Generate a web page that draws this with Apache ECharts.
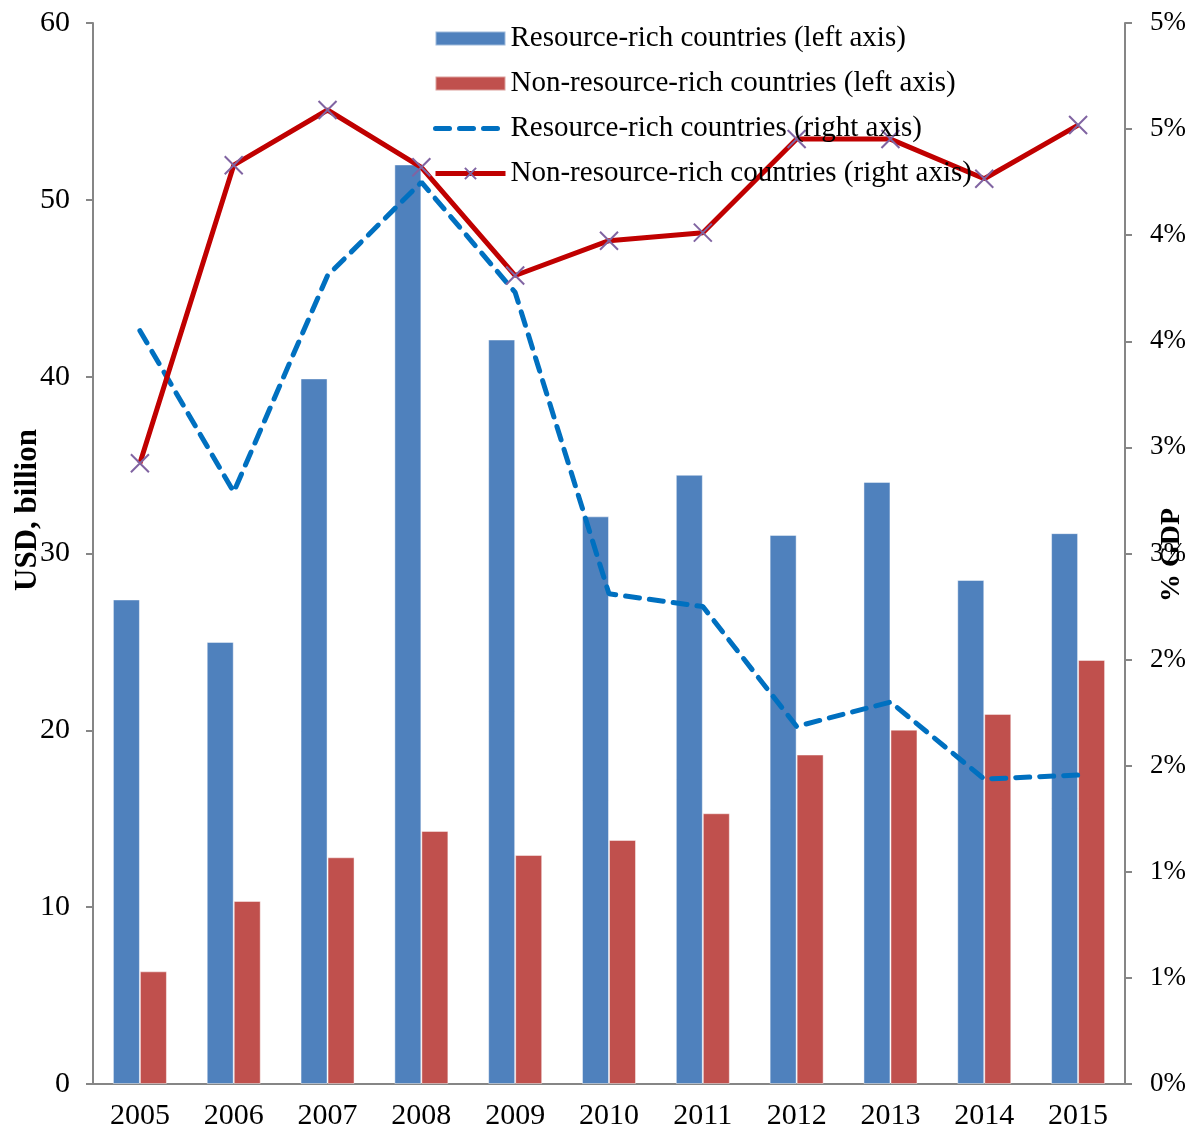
<!DOCTYPE html>
<html>
<head>
<meta charset="utf-8">
<script src="https://cdn.jsdelivr.net/npm/echarts@6/dist/echarts.min.js"></script>
<style>
  html, body { margin: 0; padding: 0; background: #fff; }
  #chart { width: 1188px; height: 1128px; }
</style>
</head>
<body>
<div id="chart"></div>
<script>
// years on the x axis
var years = ["2005", "2006", "2007", "2008", "2009", "2010", "2011", "2012", "2013", "2014", "2015"];

// USD billion (left axis)
var richUsd = [27.4, 25.0, 39.9, 52.0, 42.1, 32.1, 34.45, 31.05, 34.05, 28.5, 31.15];
var nonRichUsd = [6.37, 10.35, 12.82, 14.31, 12.95, 13.8, 15.31, 18.63, 20.04, 20.93, 23.98];

// % of GDP (right axis)
var richGdp = [3.55, 2.79, 3.81, 4.25, 3.73, 2.31, 2.25, 1.685, 1.8, 1.437, 1.456];
var nonRichGdp = [2.925, 4.33, 4.59, 4.32, 3.81, 3.974, 4.012, 4.453, 4.453, 4.266, 4.519];

var seriesNames = [
  "Resource-rich countries (left axis)",
  "Non-resource-rich countries (left axis)",
  "Resource-rich countries (right axis)",
  "Non-resource-rich countries (right axis)"
];

var font = "Liberation Serif";
var axisGray = "#868686";

var myChart = echarts.init(document.getElementById("chart"));

myChart.setOption({
  animation: false,
  textStyle: { fontFamily: font },
  grid: { left: 93, right: 63, top: 23, bottom: 44, outerBoundsMode: "none" },
  legend: {
    orient: "vertical",
    left: 428,
    top: 19,
    itemWidth: 70,
    itemHeight: 14,
    itemGap: 16,
    textStyle: { fontFamily: font, fontSize: 29, color: "#000" },
    data: [
      { name: seriesNames[0], icon: "rect" },
      { name: seriesNames[1], icon: "rect" },
      {
        name: seriesNames[2],
        lineStyle: { width: 5 },
        itemStyle: { color: "rgba(0,0,0,0)", borderWidth: 0 }
      },
      { name: seriesNames[3], lineStyle: { width: 5 } }
    ]
  },
  graphic: [
    {
      type: "text",
      x: 28,
      y: 510,
      rotation: Math.PI / 2,
      style: {
        text: "USD, billion",
        fontFamily: font,
        fontSize: 31,
        fontWeight: "bold",
        fill: "#000",
        align: "center",
        verticalAlign: "middle"
      }
    },
    {
      type: "text",
      x: 1172,
      y: 555,
      rotation: Math.PI / 2,
      style: {
        text: "% GDP",
        fontFamily: font,
        fontSize: 28,
        fontWeight: "bold",
        fill: "#000",
        align: "center",
        verticalAlign: "middle"
      }
    }
  ],
  xAxis: {
    type: "category",
    data: years,
    axisLine: { lineStyle: { color: axisGray, width: 2 } },
    axisTick: { length: 8, lineStyle: { color: axisGray, width: 2 } },
    axisLabel: { fontFamily: font, fontSize: 30, color: "#000", margin: 17 }
  },
  yAxis: [
    {
      type: "value",
      min: 0,
      max: 60,
      interval: 10,
      splitLine: { show: false },
      axisLine: { show: true, lineStyle: { color: axisGray, width: 2 } },
      axisTick: { show: true, length: 7, lineStyle: { color: axisGray, width: 2 } },
      axisLabel: { fontFamily: font, fontSize: 30, color: "#000", margin: 23 }
    },
    {
      type: "value",
      min: 0,
      max: 5,
      interval: 0.5,
      position: "right",
      splitLine: { show: false },
      axisLine: { show: true, lineStyle: { color: axisGray, width: 2 } },
      axisTick: { show: true, length: 7, lineStyle: { color: axisGray, width: 2 } },
      axisLabel: {
        fontFamily: font,
        fontSize: 27,
        color: "#000",
        margin: 25,
        formatter: function (v) {
          return Math.round(v) + "%";
        }
      }
    }
  ],
  series: [
    {
      name: seriesNames[0],
      type: "bar",
      barWidth: 27,
      barGap: "0%",
      itemStyle: { color: "#4F81BD", borderColor: "rgba(255,255,255,0.45)", borderWidth: 1 },
      data: richUsd
    },
    {
      name: seriesNames[1],
      type: "bar",
      barWidth: 27,
      barGap: "0%",
      itemStyle: { color: "#C0504D", borderColor: "rgba(255,255,255,0.45)", borderWidth: 1 },
      data: nonRichUsd
    },
    {
      name: seriesNames[2],
      type: "line",
      yAxisIndex: 1,
      symbol: "none",
      lineStyle: { color: "#0070C0", width: 5, type: [14, 10], cap: "round" },
      itemStyle: { color: "#0070C0" },
      data: richGdp
    },
    {
      name: seriesNames[3],
      type: "line",
      yAxisIndex: 1,
      symbol: "path://M0,0L10,10M10,0L0,10",
      symbolSize: 18,
      lineStyle: { color: "#C00000", width: 5 },
      itemStyle: { color: "rgba(0,0,0,0)", borderColor: "#8064A2", borderWidth: 2 },
      z: 3,
      data: nonRichGdp
    }
  ]
});
</script>
</body>
</html>
